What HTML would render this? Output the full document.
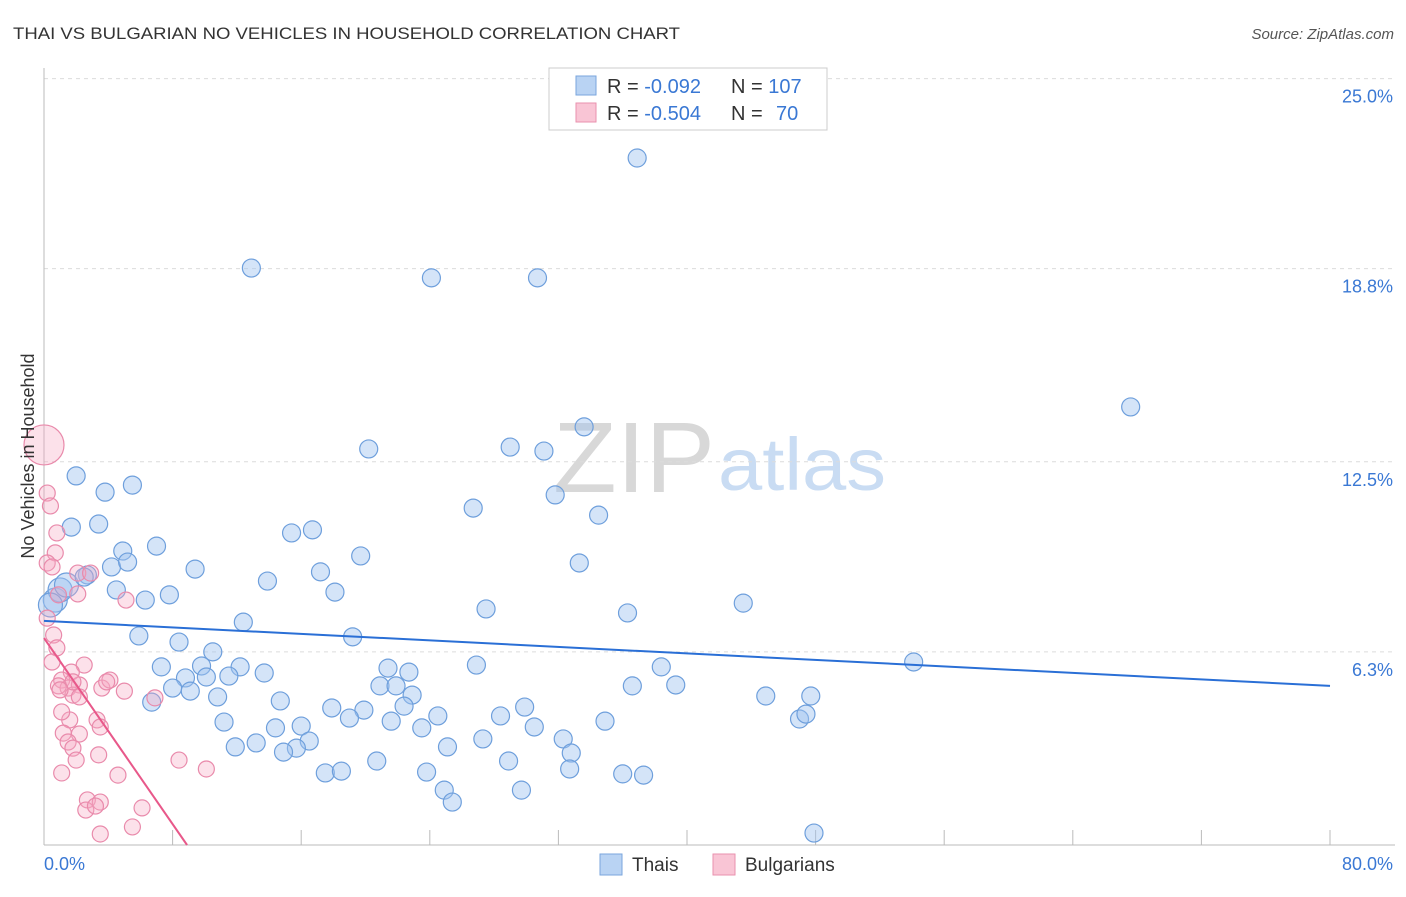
<!DOCTYPE html>
<html><head><meta charset="utf-8"><style>
body{margin:0;background:#fff;font-family:"Liberation Sans",sans-serif;}
svg text{font-family:"Liberation Sans",sans-serif;}
</style></head><body>
<svg id="chart" width="1406" height="892">
<text x="13" y="39" font-size="17" fill="#333" textLength="667" lengthAdjust="spacingAndGlyphs">THAI VS BULGARIAN NO VEHICLES IN HOUSEHOLD CORRELATION CHART</text>
<text x="1394" y="39" font-size="15" fill="#555" font-style="italic" text-anchor="end">Source: ZipAtlas.com</text>
<g>
<text x="553" y="492" font-size="100" fill="#d8d8d8" font-family="Liberation Serif" textLength="162" lengthAdjust="spacingAndGlyphs">ZIP</text>
<text x="718" y="490" font-size="74" fill="#c9dcf3" textLength="168" lengthAdjust="spacingAndGlyphs">atlas</text>
</g>
<g id="grid"></g>
<g id="axes"></g>
<g id="points"></g>
<g id="trends"></g>
<text transform="translate(34,456) rotate(-90)" font-size="18" fill="#333" text-anchor="middle">No Vehicles in Household</text>
<g>
<rect x="549" y="68" width="278" height="62" fill="#fff" stroke="#ccc"/>
<rect x="576" y="76" width="20" height="19" fill="#b9d3f3" stroke="#7aa6dd"/>
<rect x="576" y="103" width="20" height="19" fill="#f9c5d5" stroke="#e991ae"/>
<text x="607" y="93" font-size="20" fill="#333">R = <tspan fill="#3a78d4">-0.092</tspan></text>
<text x="731" y="93" font-size="20" fill="#333">N = <tspan fill="#3a78d4">107</tspan></text>
<text x="607" y="120" font-size="20" fill="#333">R = <tspan fill="#3a78d4">-0.504</tspan></text>
<text x="731" y="120" font-size="20" fill="#333">N = <tspan x="776" fill="#3a78d4">70</tspan></text>
</g>
<g>
<rect x="600" y="854" width="22" height="21" fill="#b9d3f3" stroke="#7aa6dd"/>
<text x="632" y="871" font-size="19" fill="#333">Thais</text>
<rect x="713" y="854" width="22" height="21" fill="#f9c5d5" stroke="#e991ae"/>
<text x="745" y="871" font-size="19" fill="#333">Bulgarians</text>
</g>
</svg>
<script>
const yTicks=[25.0,18.8,12.5,6.3];
const yTickLabels=["25.0%","18.8%","12.5%","6.3%"];
const xTicks=[0,8,16,24,32,40,48,56,64,72,80];
const xTickLabels=["0.0%","80.0%"];
const thaiX=[36.9,12.9,24.1,30.7,67.6,33.6,20.2,29.0,31.1,2.0,5.5,3.8,31.8,26.7,34.5,1.7,3.4,15.4,16.7,4.9,7.0,19.7,4.2,5.2,9.4,17.2,33.3,2.7,13.9,4.5,6.3,7.8,18.1,27.5,36.3,43.5,0.7,12.4,5.9,8.4,19.2,10.5,7.3,9.8,12.2,8.8,11.5,13.7,21.4,22.7,26.9,38.4,54.1,8.0,9.1,10.1,20.9,21.9,36.6,39.3,10.8,14.7,22.9,6.7,44.9,47.7,17.9,19.9,22.4,29.9,11.2,19.0,21.6,24.5,28.4,34.9,47.0,47.4,14.4,16.0,23.5,30.5,11.9,13.2,16.5,15.7,14.9,25.1,27.3,32.3,32.8,20.7,28.9,17.5,18.5,23.8,32.7,36.0,37.3,24.9,25.4,29.7,47.9,1.0,1.4,0.4,2.5];
const thaiY=[22.41,18.82,18.50,18.50,14.29,13.64,12.92,12.98,12.85,12.04,11.74,11.51,11.42,10.99,10.76,10.37,10.47,10.18,10.28,9.59,9.75,9.43,9.07,9.23,9.00,8.91,9.20,8.81,8.61,8.32,7.99,8.16,8.25,7.70,7.57,7.89,7.99,7.27,6.82,6.62,6.79,6.30,5.81,5.84,5.81,5.45,5.51,5.61,5.77,5.64,5.87,5.81,5.97,5.12,5.02,5.48,5.19,5.19,5.19,5.22,4.83,4.70,4.89,4.66,4.86,4.86,4.47,4.40,4.53,4.50,4.01,4.14,4.04,4.21,4.21,4.04,4.11,4.27,3.82,3.88,3.82,3.85,3.20,3.33,3.39,3.16,3.03,3.20,3.46,3.46,3.00,2.74,2.74,2.35,2.41,2.38,2.48,2.32,2.28,1.79,1.40,1.79,0.39,8.32,8.48,7.83,8.74];
const bulgX=[0,0.2,0.4,0.8,0.7,0.2,0.5,2.1,2.9,2.1,5.1,0.2,0.6,0.8,0.5,2.5,1.7,1.1,1.5,2.2,0.9,3.6,4.1,5.0,6.9,1.8,2.2,1.6,3.3,3.5,1.2,2.2,1.5,1.8,3.4,2.0,1.1,4.6,8.4,10.1,2.7,3.5,2.6,3.2,6.1,5.5,3.5,1.1,1.8,1.0,3.9,0.9];
const bulgY=[13.05,11.48,11.06,10.18,9.53,9.20,9.07,8.87,8.87,8.19,7.99,7.40,6.85,6.43,5.97,5.87,5.64,5.38,5.12,5.22,5.19,5.12,5.38,5.02,4.80,4.89,4.83,4.08,4.08,3.85,3.65,3.62,3.36,3.16,2.94,2.77,2.35,2.28,2.77,2.48,1.47,1.40,1.14,1.27,1.21,0.59,0.36,4.34,5.32,5.06,5.32,8.16];
const thaiTrend=[[0,7.31],[80,5.19]];
const bulgTrend=[[0,6.75],[8.9,0]];
const NS="http://www.w3.org/2000/svg";
const X0=44,X1=1330,Y0=845,YPER=191.6/6.25;
function sx(v){return X0+(X1-X0)*v/80;}
function sy(v){return Y0-v*YPER;}
function mk(tag,attrs,parent){const e=document.createElementNS(NS,tag);for(const k in attrs)e.setAttribute(k,attrs[k]);parent.appendChild(e);return e;}
const grid=document.getElementById('grid'),axes=document.getElementById('axes'),pts=document.getElementById('points'),tr=document.getElementById('trends');
yTicks.forEach((t,i)=>{
 const l=mk('line',{x1:X0,x2:1395,y1:sy(t),y2:sy(t),stroke:'#dcdcdc','stroke-dasharray':'4,4'},grid);
 
 
 const tx=mk('text',{x:1393,y:sy(t)+24,'font-size':18,fill:'#3a78d4','text-anchor':'end'},grid);
 tx.textContent=yTickLabels[i];
 
 
});
let a=mk('line',{x1:X0,x2:X0,y1:68,y2:Y0,stroke:'#bbb'},axes);


a=mk('line',{x1:X0,x2:1395,y1:Y0,y2:Y0,stroke:'#bbb'},axes);


xTicks.forEach(t=>{
 const l=mk('line',{x1:sx(t),x2:sx(t),y1:Y0-15,y2:Y0,stroke:'#bbb'},axes);
 
 
});
let t1=mk('text',{x:44,y:870,'font-size':18,fill:'#3a78d4'},axes);t1.textContent=xTickLabels[0];


let t2=mk('text',{x:1393,y:870,'font-size':18,fill:'#3a78d4','text-anchor':'end'},axes);t2.textContent=xTickLabels[1];


thaiX.forEach((x,i)=>{
 const r=(x<1.5)?12:9;
 const c=mk('circle',{cx:sx(x),cy:sy(thaiY[i]),r:r,fill:'rgba(160,195,240,0.45)',stroke:'#6e9fdc','stroke-width':1.2},pts);
 
 
});
bulgX.forEach((x,i)=>{
 const r=(i===0)?20:8;
 const c=mk('circle',{cx:sx(x),cy:sy(bulgY[i]),r:r,fill:'rgba(246,170,196,0.35)',stroke:'#e98aab','stroke-width':1.2},pts);
 
 
});
let l1=mk('line',{x1:sx(thaiTrend[0][0]),y1:sy(thaiTrend[0][1]),x2:sx(thaiTrend[1][0]),y2:sy(thaiTrend[1][1]),stroke:'#2a6fd6','stroke-width':2},tr);


let l2=mk('line',{x1:sx(bulgTrend[0][0]),y1:sy(bulgTrend[0][1]),x2:sx(bulgTrend[1][0]),y2:sy(bulgTrend[1][1]),stroke:'#e8588a','stroke-width':2},tr);


</script>
</body></html>
